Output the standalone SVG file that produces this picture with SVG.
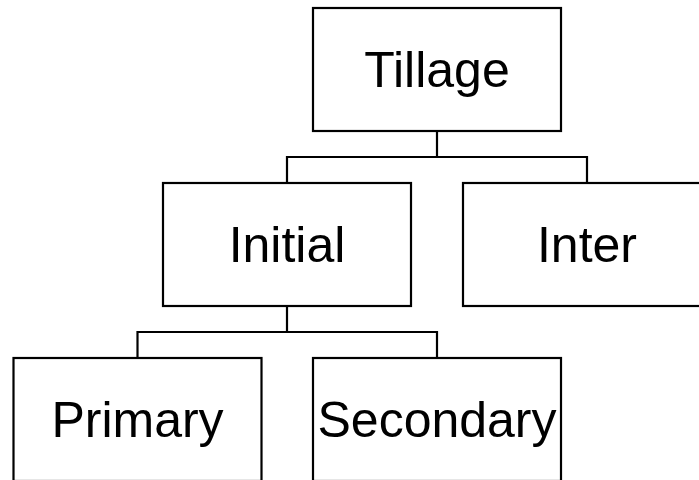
<svg xmlns="http://www.w3.org/2000/svg" width="699" height="480" viewBox="0 0 699 480">
  <style>
    .box { fill: #ffffff; stroke: #000000; stroke-width: 2.2; }
    .label { font-family: "Liberation Sans", Arial, sans-serif; font-size: 50px; fill: #000000; text-anchor: middle; }
    .link { fill: none; stroke: #000000; stroke-width: 2.2; }
  </style>
  <rect width="699" height="480" fill="#ffffff"/>

  <!-- tree connectors -->
  <g id="connectors">
    <path class="link" d="M437,131 V157 M287,183 V157 H587 V183"/>
    <path class="link" d="M287,306 V332 M137.5,358 V332 H437 V358"/>
  </g>

  <g id="tillage">
    <rect class="box" x="313" y="8" width="248" height="123"/>
    <text class="label" x="437" y="87">Tillage</text>
  </g>

  <g id="initial">
    <rect class="box" x="163" y="183" width="248" height="123"/>
    <text class="label" x="287" y="262">Initial</text>
  </g>

  <g id="inter">
    <rect class="box" x="463" y="183" width="248" height="123"/>
    <text class="label" x="587" y="262">Inter</text>
  </g>

  <g id="primary">
    <rect class="box" x="13.5" y="358" width="248" height="123"/>
    <text class="label" x="137.5" y="437">Primary</text>
  </g>

  <g id="secondary">
    <rect class="box" x="313" y="358" width="248" height="123"/>
    <text class="label" x="437" y="437">Secondary</text>
  </g>
</svg>
